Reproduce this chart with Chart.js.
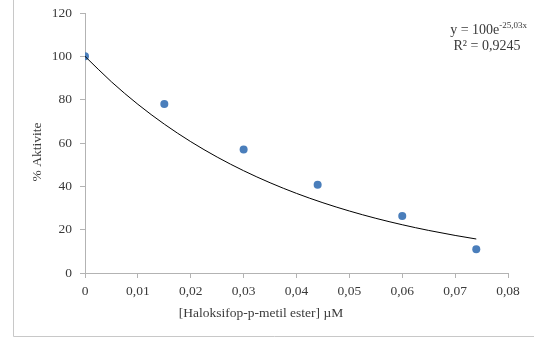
<!DOCTYPE html>
<html><head><meta charset="utf-8">
<script src="https://cdn.jsdelivr.net/npm/chart.js@4"></script>
<style>html,body{margin:0;padding:0;background:#fff}#wrap{width:534px;height:341px;position:relative}</style>
</head><body><div id="wrap"><canvas id="c" width="534" height="341"></canvas></div>
<script>
// ---- data ----
const concentrations = [0, 0.015, 0.03, 0.044, 0.06, 0.074];
const activity = [100, 78, 57, 40.7, 26.3, 11];
// exponential trendline y = 100e^(-25,03x), values read at 0.005 steps
const trendX = [0, 0.005, 0.01, 0.015, 0.02, 0.025, 0.03, 0.035, 0.04, 0.045, 0.05, 0.055, 0.06, 0.065, 0.07, 0.074];
const trendY = [100, 88.24, 77.86, 68.70, 60.62, 53.49, 47.20, 41.65, 36.74, 32.42, 28.61, 25.24, 22.27, 19.65, 17.34, 15.69];
const xTickValues = [0, 0.01, 0.02, 0.03, 0.04, 0.05, 0.06, 0.07, 0.08];
const xTickLabels = ['0', '0,01', '0,02', '0,03', '0,04', '0,05', '0,06', '0,07', '0,08'];
const yTickValues = [0, 20, 40, 60, 80, 100, 120];
const yTickLabels = ['0', '20', '40', '60', '80', '100', '120'];
const xTitle = '[Haloksifop-p-metil ester] µM';
const yTitle = '% Aktivite';
const eqMain = 'y = 100e';
const eqExp = '-25,03x';
const r2Text = 'R² = 0,9245';

const FONT = '"Liberation Serif", "Times New Roman", serif';
const TXT = '#3A3A3A';
const AXIS = '#B3B3B3';

const decor = {
  id: 'decor',
  beforeDraw(chart) {
    const ctx = chart.ctx;
    ctx.save();
    ctx.fillStyle = '#fff';
    ctx.fillRect(0, 0, chart.width, chart.height);
    ctx.strokeStyle = '#C8C8C8';
    ctx.lineWidth = 1;
    ctx.beginPath();
    ctx.moveTo(13.5, -2);
    ctx.lineTo(13.5, 336.5);
    ctx.lineTo(chart.width + 2, 336.5);
    ctx.stroke();
    ctx.restore();
  },
  afterDraw(chart) {
    const ctx = chart.ctx;
    ctx.save();
    ctx.fillStyle = TXT;
    // x title
    ctx.font = '13.5px ' + FONT;
    ctx.textAlign = 'center';
    ctx.textBaseline = 'middle';
    ctx.fillText(xTitle, 261, 313);
    // y title
    ctx.save();
    ctx.translate(37, 152);
    ctx.rotate(-Math.PI / 2);
    ctx.fillText(yTitle, 0, 0);
    ctx.restore();
    // equation
    ctx.textAlign = 'left';
    ctx.textBaseline = 'alphabetic';
    ctx.font = '14px ' + FONT;
    const mainW = ctx.measureText(eqMain).width;
    ctx.font = '9px ' + FONT;
    const expW = ctx.measureText(eqExp).width;
    const right1 = 527;
    const x1 = right1 - expW - mainW;
    ctx.font = '14px ' + FONT;
    ctx.fillText(eqMain, x1, 34);
    ctx.font = '9px ' + FONT;
    ctx.fillText(eqExp, x1 + mainW, 28);
    ctx.font = '14px ' + FONT;
    ctx.textAlign = 'center';
    ctx.fillText(r2Text, 487, 50);
    ctx.restore();
  }
};

new Chart(document.getElementById('c'), {
  type: 'scatter',
  data: {
    datasets: [
      {
        label: 'Aktivite',
        data: concentrations.map((x, i) => ({ x: x, y: activity[i] })),
        backgroundColor: '#4A7EBB',
        borderColor: '#4A7EBB',
        pointRadius: 4,
        pointBorderWidth: 0,
        order: 2
      },
      {
        label: 'Trend',
        data: trendX.map((x, i) => ({ x: x, y: trendY[i] })),
        showLine: true,
        borderColor: '#000',
        borderWidth: 1,
        pointRadius: 0,
        cubicInterpolationMode: 'monotone',
        fill: false,
        order: 1
      }
    ]
  },
  options: {
    responsive: false,
    devicePixelRatio: 1,
    animation: false,
    layout: { padding: { left: 0, right: 26, top: 13, bottom: 0 } },
    plugins: { legend: { display: false }, tooltip: { enabled: false } },
    scales: {
      x: {
        type: 'linear',
        min: 0, max: 0.08,
        afterBuildTicks(scale) { scale.ticks = xTickValues.map(v => ({ value: v })); },
        afterFit(scale) { scale.height = 68; scale.paddingRight = 0; scale.paddingLeft = 0; },
        ticks: {
          autoSkip: false, maxRotation: 0,
          color: TXT, padding: 5,
          font: { family: FONT, size: 13.5 },
          callback: (v, i) => xTickLabels[i]
        },
        grid: { drawOnChartArea: false, drawTicks: true, tickLength: 5, color: AXIS },
        border: { color: AXIS, width: 1 }
      },
      y: {
        min: 0, max: 120,
        afterBuildTicks(scale) { scale.ticks = yTickValues.map(v => ({ value: v })); },
        afterFit(scale) { scale.width = 85; scale.paddingTop = 0; scale.paddingBottom = 0; },
        ticks: {
          autoSkip: false,
          color: TXT, padding: 8,
          font: { family: FONT, size: 13.5 },
          callback: (v, i) => yTickLabels[i]
        },
        grid: { drawOnChartArea: false, drawTicks: true, tickLength: 5, color: AXIS },
        border: { color: AXIS, width: 1 }
      }
    }
  },
  plugins: [decor]
});
</script>
</body></html>
